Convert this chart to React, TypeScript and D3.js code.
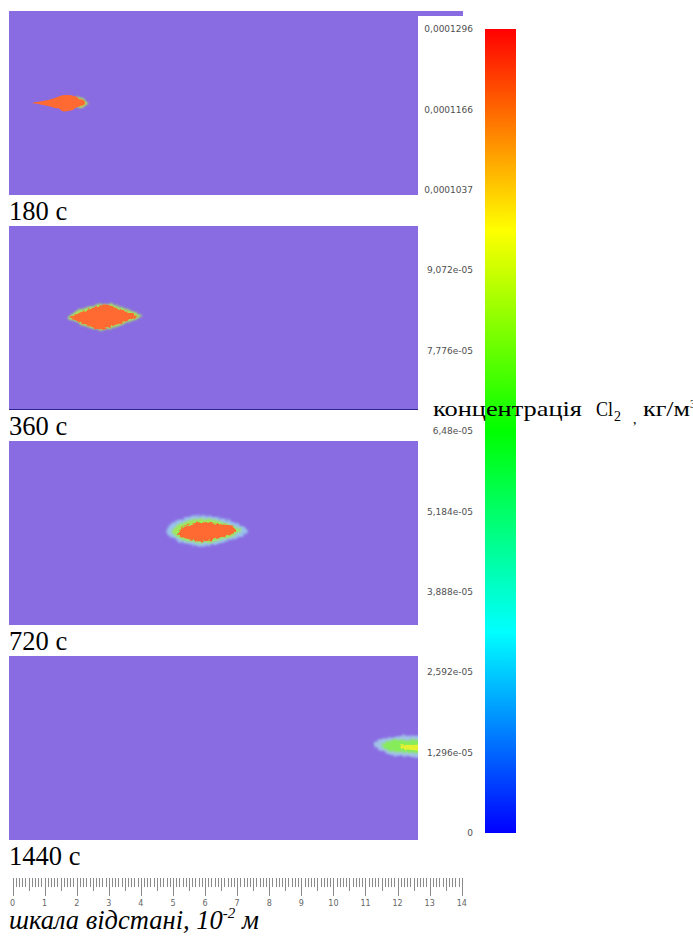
import React from "react";
import * as d3 from "d3";

const W = 693;
const H = 938;

// ---------- data ----------
const timeLabels = ["180 с", "360 с", "720 с", "1440 с"];

// plume contours, [x (cm on distance scale), y (cm from panel top)]
const fringe180: [number, number][] = [
  [1.98, 2.68], [2.10, 2.71], [2.23, 2.74], [2.32, 2.84], [2.32, 2.93], [2.23, 2.99], [2.10, 3.02], [1.98, 2.99],
];
const core180: [number, number][] = [
  [0.61, 2.87], [0.86, 2.82], [1.11, 2.77], [1.32, 2.71], [1.48, 2.65], [1.60, 2.62], [1.79, 2.62], [1.92, 2.65],
  [2.01, 2.68], [2.07, 2.74], [2.17, 2.76], [2.23, 2.80], [2.26, 2.87], [2.23, 2.93], [2.13, 2.96], [2.04, 2.99],
  [1.95, 3.02], [1.89, 3.08], [1.73, 3.12], [1.54, 3.12], [1.48, 3.05], [1.32, 3.02], [1.11, 2.96], [0.86, 2.91],
];
const fringe360: [number, number][] = [
  [1.70, 2.87], [1.81, 2.77], [1.92, 2.71], [1.98, 2.65], [2.10, 2.62], [2.23, 2.56], [2.35, 2.52], [2.51, 2.49],
  [2.66, 2.43], [2.85, 2.41], [3.04, 2.44], [3.23, 2.47], [3.38, 2.53], [3.57, 2.60], [3.76, 2.68], [3.91, 2.74],
  [4.04, 2.80], [3.91, 2.89], [3.72, 2.97], [3.54, 3.03], [3.35, 3.10], [3.13, 3.16], [2.94, 3.22], [2.79, 3.26],
  [2.60, 3.23], [2.42, 3.17], [2.23, 3.11], [2.07, 3.04], [1.92, 2.96], [1.81, 2.93],
];
const core360: [number, number][] = [
  [1.82, 2.84], [2.02, 2.74], [2.16, 2.67], [2.29, 2.64], [2.42, 2.58], [2.57, 2.51], [2.73, 2.48], [2.88, 2.45],
  [3.04, 2.48], [3.19, 2.55], [3.35, 2.61], [3.54, 2.67], [3.70, 2.73], [3.88, 2.82], [3.70, 2.91], [3.54, 2.97],
  [3.35, 3.03], [3.16, 3.10], [2.98, 3.16], [2.82, 3.24], [2.66, 3.22], [2.51, 3.16], [2.35, 3.10], [2.20, 3.03],
  [2.04, 2.97], [1.90, 2.91],
];
const outer720: [number, number][] = [
  [4.78, 2.77], [4.91, 2.62], [5.10, 2.49], [5.34, 2.40], [5.59, 2.34], [5.84, 2.31], [6.15, 2.34], [6.47, 2.40],
  [6.78, 2.49], [7.03, 2.59], [7.21, 2.68], [7.34, 2.80], [7.21, 2.93], [6.96, 3.02], [6.65, 3.12], [6.34, 3.21],
  [6.03, 3.27], [5.72, 3.27], [5.41, 3.21], [5.16, 3.12], [4.94, 2.99], [4.81, 2.90],
];
const mid720: [number, number][] = [
  [4.97, 2.80], [5.10, 2.65], [5.28, 2.56], [5.53, 2.46], [5.78, 2.43], [6.09, 2.43], [6.40, 2.49], [6.72, 2.59],
  [6.96, 2.68], [7.12, 2.77], [7.00, 2.90], [6.78, 2.99], [6.47, 3.09], [6.15, 3.15], [5.84, 3.18], [5.53, 3.12],
  [5.28, 3.05], [5.10, 2.96],
];
const core720: [number, number][] = [
  [5.15, 2.87], [5.28, 2.70], [5.53, 2.60], [5.78, 2.54], [6.03, 2.54], [6.28, 2.57], [6.53, 2.60], [6.80, 2.63],
  [6.96, 2.74], [6.86, 2.88], [6.65, 2.97], [6.40, 3.04], [6.15, 3.10], [5.91, 3.13], [5.66, 3.10], [5.41, 3.04],
  [5.22, 2.97],
];
const outer1440: [number, number][] = [
  [11.30, 2.71], [11.45, 2.62], [11.64, 2.56], [11.86, 2.52], [12.08, 2.49], [12.39, 2.49], [12.70, 2.52],
  [12.70, 3.12], [12.39, 3.12], [12.08, 3.12], [11.86, 3.09], [11.64, 3.02], [11.45, 2.93], [11.33, 2.84],
];
const mid1440: [number, number][] = [
  [11.51, 2.74], [11.70, 2.65], [11.92, 2.62], [12.17, 2.62], [12.45, 2.62], [12.70, 2.65], [12.70, 2.99],
  [12.39, 3.02], [12.08, 2.99], [11.83, 2.96], [11.61, 2.90],
];
const core1440: [number, number][] = [
  [12.08, 2.80], [12.29, 2.77], [12.51, 2.77], [12.70, 2.77], [12.70, 2.93], [12.45, 2.93], [12.20, 2.90],
];

// colour bar
const cbMax = 0.0001296;
const cbTicks = [0.0001296, 0.0001166, 0.0001037, 9.072e-05, 7.776e-05, 6.48e-05, 5.184e-05, 3.888e-05, 2.592e-05, 1.296e-05, 0];
const cbTickLabels = ["0,0001296", "0,0001166", "0,0001037", "9,072e-05", "7,776e-05", "6,48e-05", "5,184e-05", "3,888e-05", "2,592e-05", "1,296e-05", "0"];
const cbColors = ["#0000ff", "#00ffff", "#00ff00", "#ffff00", "#ff0000"];
const cbStops = [0, 0.25, 0.5, 0.75, 1];

// distance scale (cm)
const rulerMax = 14;
const rulerLabels = d3.range(0, 15);

// ---------- layout ----------
const PANEL_X0 = 9;
const PANEL_X1 = 418;
const PANEL_TOP0 = 11;
const PANEL_STEP = 215;
const PANEL_H = 184;
const PX_PER_CM = 32.09;
const PANEL_BG = "#896ce2";
const SERIF = "Liberation Serif, Times New Roman, DejaVu Serif, serif";

const xScale = d3.scaleLinear().domain([0, rulerMax]).range([12.5, 12.5 + rulerMax * PX_PER_CM]);
const yScale = d3.scaleLinear().domain([0, PANEL_H / PX_PER_CM]).range([0, PANEL_H]);
const cbScale = d3.scaleLinear().domain([0, cbMax]).range([833, 29]);

const line = d3
  .line<[number, number]>()
  .x((d) => xScale(d[0]))
  .y((d) => yScale(d[1]))
  .curve(d3.curveCatmullRomClosed.alpha(0.5));

type Layer = { pts: [number, number][]; fill: string; opacity: number; blur: string };
const panelLayers: Layer[][] = [
  [
    { pts: fringe180, fill: "#b4e84a", opacity: 1, blur: "rough" },
    { pts: core180, fill: "#fe6a30", opacity: 1, blur: "soft" },
  ],
  [
    { pts: fringe360, fill: "#a8e45c", opacity: 1, blur: "rough" },
    { pts: core360, fill: "#fe6a30", opacity: 1, blur: "rough2" },
  ],
  [
    { pts: outer720, fill: "#9cd2ec", opacity: 0.85, blur: "rough" },
    { pts: mid720, fill: "#9ee85a", opacity: 1, blur: "rough" },
    { pts: core720, fill: "#fe6a30", opacity: 1, blur: "rough2" },
  ],
  [
    { pts: outer1440, fill: "#a6d8ea", opacity: 0.8, blur: "rough" },
    { pts: mid1440, fill: "#86ec5a", opacity: 1, blur: "rough" },
    { pts: core1440, fill: "#e4f230", opacity: 1, blur: "rough2" },
  ],
];

export default function App() {
  const mmTicks = d3.range(0, rulerMax * 10 + 1);
  return (
    <svg
      width={W}
      height={H}
      style={{ position: "absolute", left: 0, top: 0, background: "#fff" }}
      xmlns="http://www.w3.org/2000/svg"
    >
      <defs>
        <linearGradient id="cbGrad" x1="0" y1="1" x2="0" y2="0">
          {cbStops.map((s, i) => (
            <stop key={i} offset={`${s * 100}%`} stopColor={cbColors[i]} />
          ))}
        </linearGradient>
        <filter id="rough" x="-30%" y="-60%" width="160%" height="220%">
          <feTurbulence type="fractalNoise" baseFrequency="0.35" numOctaves="2" seed="4" result="n" />
          <feDisplacementMap in="SourceGraphic" in2="n" scale="5" xChannelSelector="R" yChannelSelector="G" result="d" />
          <feGaussianBlur in="d" stdDeviation="0.8" />
        </filter>
        <filter id="rough2" x="-30%" y="-60%" width="160%" height="220%">
          <feTurbulence type="fractalNoise" baseFrequency="0.3" numOctaves="2" seed="9" result="n" />
          <feDisplacementMap in="SourceGraphic" in2="n" scale="4" xChannelSelector="R" yChannelSelector="G" result="d" />
          <feGaussianBlur in="d" stdDeviation="0.4" />
        </filter>
        <filter id="soft" x="-30%" y="-60%" width="160%" height="220%">
          <feGaussianBlur stdDeviation="0.4" />
        </filter>
        {timeLabels.map((_, i) => (
          <clipPath id={`clip${i}`} key={i}>
            <rect x={PANEL_X0} y={0} width={PANEL_X1 - PANEL_X0} height={PANEL_H} />
          </clipPath>
        ))}
      </defs>

      {/* thin strip above first panel */}
      <rect x={PANEL_X1} y={PANEL_TOP0} width={45} height={5} fill={PANEL_BG} />

      {timeLabels.map((lab, i) => {
        const top = PANEL_TOP0 + i * PANEL_STEP;
        return (
          <g key={lab} transform={`translate(0,${top})`}>
            <rect x={PANEL_X0} y={0} width={PANEL_X1 - PANEL_X0} height={PANEL_H} fill={PANEL_BG} />
            <g clipPath={`url(#clip${i})`}>
              {panelLayers[i].map((l, j) => (
                <path key={j} d={line(l.pts) || ""} fill={l.fill} fillOpacity={l.opacity} filter={`url(#${l.blur})`} />
              ))}
            </g>
            {i === 1 && (
              <line x1={PANEL_X0} x2={PANEL_X1} y1={PANEL_H - 0.5} y2={PANEL_H - 0.5} stroke="#2b2890" strokeWidth={1} />
            )}
            <text x={PANEL_X0} y={PANEL_H + 25} fontFamily={SERIF} fontSize={26.5} fill="#000">
              {lab}
            </text>
          </g>
        );
      })}

      {/* colour bar */}
      <rect x={485} y={cbScale(cbMax)} width={31} height={cbScale(0) - cbScale(cbMax)} fill="url(#cbGrad)" />
      {cbTicks.map((t, i) => (
        <text
          key={i}
          x={473}
          y={cbScale(t)}
          dy="0.35em"
          textAnchor="end"
          fontFamily="DejaVu Sans, sans-serif"
          fontSize={9}
          fill="#505050"
        >
          {cbTickLabels[i]}
        </text>
      ))}

      {/* concentration label */}
      <g fontFamily={SERIF} fill="#000">
        <text x={433} y={416} fontSize={21} textLength={149} lengthAdjust="spacingAndGlyphs">
          концентрація
        </text>
        <text x={596} y={416} fontSize={21} textLength={17} lengthAdjust="spacingAndGlyphs">Cl</text>
        <text x={614} y={421} fontSize={14}>2</text>
        <text x={633} y={424} fontSize={14}>,</text>
        <text x={643} y={416} fontSize={21} textLength={47} lengthAdjust="spacingAndGlyphs">кг/м</text>
        <text x={690} y={408} fontSize={12}>3</text>
      </g>

      {/* distance ruler */}
      <g>
        {mmTicks.map((m) => {
          const len = m % 10 === 0 ? 18 : m % 5 === 0 ? 13 : 9;
          const x = Math.round(xScale(m / 10)) + 0.5;
          return <line key={m} x1={x} x2={x} y1={878} y2={878 + len} stroke="#8a8a8a" strokeWidth={1} />;
        })}
        {rulerLabels.map((c) => (
          <text
            key={c}
            x={xScale(c)}
            y={906}
            textAnchor="middle"
            fontFamily="DejaVu Sans, sans-serif"
            fontSize={8}
            fill="#666"
          >
            {c}
          </text>
        ))}
      </g>
      <text x={9} y={929} fontFamily={SERIF} fontStyle="italic" fontSize={26.5} fill="#000">
        шкала відстані, 10
        <tspan fontSize={15} dy={-11}>-2</tspan>
        <tspan dy={11}> м</tspan>
      </text>
    </svg>
  );
}
